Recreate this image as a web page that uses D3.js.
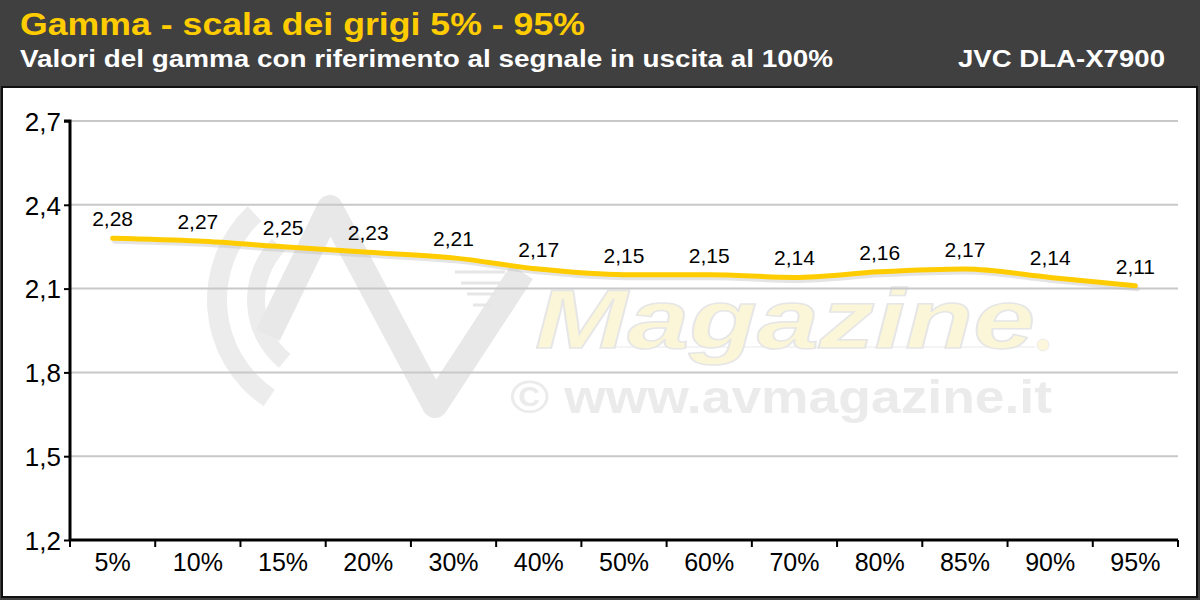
<!DOCTYPE html>
<html><head><meta charset="utf-8">
<script src="https://cdn.jsdelivr.net/npm/d3@7"></script>
<style>html,body{margin:0;padding:0;background:#404040;}svg{display:block;}</style>
</head><body>
<svg id="c" width="1200" height="600"></svg>
<script>
const categories = ["5%","10%","15%","20%","30%","40%","50%","60%","70%","80%","85%","90%","95%"];
const gammaValues = [2.28,2.27,2.25,2.23,2.21,2.17,2.15,2.15,2.14,2.16,2.17,2.14,2.11];
const yTicks = [1.2,1.5,1.8,2.1,2.4,2.7];
const titleText = "Gamma - scala dei grigi 5% - 95%";
const subtitleText = "Valori del gamma con riferimento al segnale in uscita al 100%";
const deviceText = "JVC DLA-X7900";

const svg = d3.select("#c");
const F = "Arial, 'Liberation Sans', sans-serif";
svg.append("rect").attr("x",0).attr("y",0).attr("width",1200).attr("height",600).attr("fill","#404040");
svg.append("rect").attr("x",2).attr("y",87).attr("width",1195).attr("height",510).attr("fill","#fff").attr("stroke","#111").attr("stroke-width",2);

svg.append("text").attr("x",20).attr("y",35).attr("fill","#FFCC00").attr("font-family",F).attr("font-weight","bold").attr("font-size",31)
  .attr("textLength",565).attr("lengthAdjust","spacingAndGlyphs").text(titleText);
svg.append("text").attr("x",20).attr("y",67).attr("fill","#fff").attr("font-family",F).attr("font-weight","bold").attr("font-size",23)
  .attr("textLength",813).attr("lengthAdjust","spacingAndGlyphs").text(subtitleText);
svg.append("text").attr("x",958).attr("y",67).attr("fill","#fff").attr("font-family",F).attr("font-weight","bold").attr("font-size",23)
  .attr("textLength",207).attr("lengthAdjust","spacingAndGlyphs").text(deviceText);

// watermark logo (decorative)
const wm = svg.append("g").attr("class","watermark");
const arc = d3.arc();
wm.append("path").attr("transform","translate(335,300)")
  .attr("d",arc({innerRadius:108,outerRadius:128,startAngle:-2.55,endAngle:-0.75})).attr("fill","#ececec");
wm.append("path").attr("transform","translate(335,300)")
  .attr("d",arc({innerRadius:70,outerRadius:88,startAngle:-2.45,endAngle:-0.8})).attr("fill","#ececec");
wm.append("path").attr("d","M268,335 L330,208 L435,405 L522,272")
  .attr("fill","none").attr("stroke","#e8e8e8").attr("stroke-width",26).attr("stroke-linejoin","round");
wm.selectAll("line.sp").data([272,283,294,305]).join("line")
  .attr("x1",(d,i)=>455+i*6).attr("x2",(d,i)=>505-i*4).attr("y1",d=>d).attr("y2",d=>d)
  .attr("stroke","#e6e6e6").attr("stroke-width",3);
wm.append("circle").attr("cx",1043).attr("cy",345).attr("r",6).attr("fill","#fbf6dc").attr("stroke","#ececec");
wm.append("line").attr("x1",610).attr("x2",1035).attr("y1",347).attr("y2",347).attr("stroke","#f0f0f0").attr("stroke-width",1.5);
wm.append("text").attr("x",535).attr("y",348).attr("fill","#fbf6d8").attr("stroke","#e6e6e6").attr("stroke-width",1.5)
  .attr("font-family",F).attr("font-weight","bold").attr("font-style","italic").attr("font-size",84)
  .attr("textLength",500).attr("lengthAdjust","spacingAndGlyphs").text("Magazine");
wm.append("text").attr("x",510).attr("y",413).attr("fill","#ebebeb").attr("font-family",F).attr("font-weight","bold").attr("font-size",46)
  .attr("textLength",542).attr("lengthAdjust","spacingAndGlyphs").text("© www.avmagazine.it");

const x0 = 70, x1 = 1178, yTop = 121, yBot = 540;
const x = d3.scaleBand().domain(categories).range([x0,x1]).paddingInner(0).paddingOuter(0);
const y = d3.scaleLinear().domain([1.2,2.7]).range([yBot,yTop]);

const fmt = d => d3.format(".1f")(d).replace(".",",");
const fmt2 = d => d3.format(".2f")(d).replace(".",",");

// grid
svg.append("g").selectAll("line").data(yTicks.filter(t=>t>1.2)).join("line")
  .attr("x1",x0).attr("x2",x1).attr("y1",d=>y(d)).attr("y2",d=>y(d))
  .attr("stroke","#c8c8c8").attr("stroke-width",2);

// y axis
const ya = svg.append("g").attr("transform",`translate(${x0},0)`)
  .call(d3.axisLeft(y).tickValues(yTicks).tickFormat(fmt).tickSize(6).tickPadding(3));
ya.select(".domain").attr("stroke","#000").attr("stroke-width",3).attr("d",`M-6,${yTop}H0V${yBot}`);
ya.selectAll(".tick line").attr("stroke","#000").attr("stroke-width",2);
ya.selectAll(".tick text").attr("font-family",F).attr("font-size",26).attr("fill","#000").attr("dy","0.36em");

// x axis
const xa = svg.append("g").attr("transform",`translate(0,${yBot})`)
  .call(d3.axisBottom(x).tickSize(0).tickPadding(13));
xa.select(".domain").attr("stroke","#000").attr("stroke-width",3).attr("d",`M${x0},0H${x1}`);
xa.selectAll(".tick text").attr("font-family",F).attr("font-size",25).attr("fill","#000");
const bounds = categories.map(c=>x(c)+x.bandwidth()).concat([x0]);
svg.append("g").selectAll("line").data(bounds).join("line")
  .attr("x1",d=>d).attr("x2",d=>d).attr("y1",yBot).attr("y2",yBot+7)
  .attr("stroke","#000").attr("stroke-width",2);

// line
const pts = categories.map((c,i)=>[x(c)+x.bandwidth()/2, y(gammaValues[i])]);
const line = d3.line().curve(d3.curveMonotoneX);
svg.append("path").attr("d",line(pts.map(p=>[p[0]+2,p[1]+3]))).attr("fill","none").attr("stroke","#bbb").attr("stroke-width",5).attr("opacity",0.4).attr("stroke-linecap","round");
svg.append("path").attr("d",line(pts)).attr("fill","none").attr("stroke","#FFCC00").attr("stroke-width",5).attr("stroke-linecap","round");

svg.append("g").selectAll("text").data(gammaValues).join("text")
  .attr("x",(d,i)=>pts[i][0]).attr("y",(d,i)=>pts[i][1]-12)
  .attr("text-anchor","middle").attr("font-family",F).attr("font-size",21).attr("fill","#000")
  .text(fmt2);
</script>
</body></html>
